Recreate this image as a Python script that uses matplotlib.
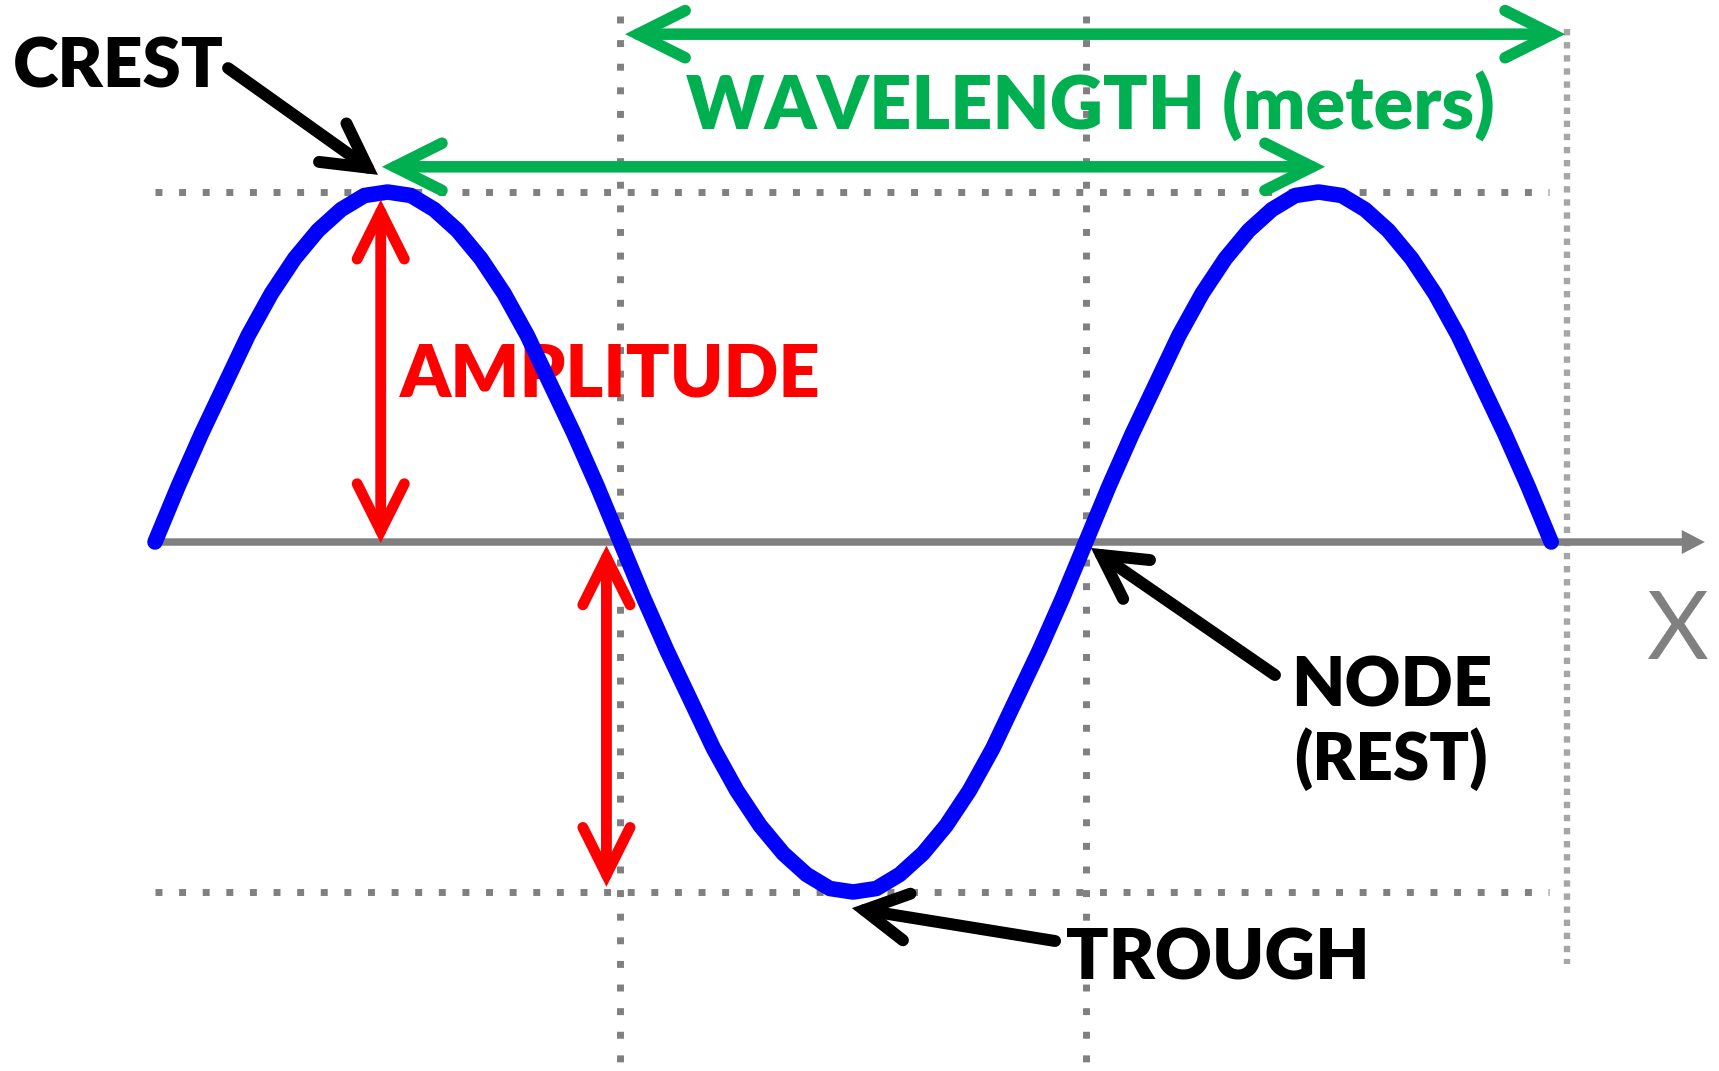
import numpy as np
import matplotlib
matplotlib.use("Agg")
import matplotlib.pyplot as plt
from matplotlib.patches import FancyArrowPatch, FancyArrow, ArrowStyle

# ---------------- data (x in quarter-wavelength units, y in amplitudes) ----------------
wave_x = [0.0, 0.1, 0.2, 0.3, 0.4, 0.5, 0.6, 0.7, 0.8, 0.9,
          1.0, 1.1, 1.2, 1.3, 1.4, 1.5, 1.6, 1.7, 1.8, 1.9,
          2.0, 2.1, 2.2, 2.3, 2.4, 2.5, 2.6, 2.7, 2.8, 2.9,
          3.0, 3.1, 3.2, 3.3, 3.4, 3.5, 3.6, 3.7, 3.8, 3.9,
          4.0, 4.1, 4.2, 4.3, 4.4, 4.5, 4.6, 4.7, 4.8, 4.9,
          5.0, 5.1, 5.2, 5.3, 5.4, 5.5, 5.6, 5.7, 5.8, 5.9, 6.0]
wave_y = [0.00, 0.16, 0.31, 0.45, 0.59, 0.71, 0.81, 0.89, 0.95, 0.99,
          1.00, 0.99, 0.95, 0.89, 0.81, 0.71, 0.59, 0.45, 0.31, 0.16,
          0.00, -0.16, -0.31, -0.45, -0.59, -0.71, -0.81, -0.89, -0.95, -0.99,
          -1.00, -0.99, -0.95, -0.89, -0.81, -0.71, -0.59, -0.45, -0.31, -0.16,
          0.00, 0.16, 0.31, 0.45, 0.59, 0.71, 0.81, 0.89, 0.95, 0.99,
          1.00, 0.99, 0.95, 0.89, 0.81, 0.71, 0.59, 0.45, 0.31, 0.16, 0.00]

axis_x = [0.0, 6.66]            # X axis: start, arrow tip
levels_y = [1.0, -1.0]          # crest / trough guide lines
levels_x = [0.0, 5.99]
node_lines_x = [2.0, 4.0]
node_lines_y = [1.503, -1.52]
edge_line_x = 6.07
edge_line_y = [1.465, -1.205]

# double arrows (start, end)
green_arrows = [((2.02, 1.451), (6.06, 1.451)),
                ((0.975, 1.072), (5.028, 1.072))]
red_arrows = [((0.97, 0.978), (0.97, -0.003)),
              ((1.94, -0.01), (1.94, -0.985))]
# pointer arrows (tail, tip)
black_arrows = [((0.314, 1.354), (0.958, 1.049)),   # crest
                ((4.813, -0.380), (4.022, -0.017)), # node
                ((3.868, -1.140), (2.995, -1.046))] # trough

# labels: text, left x, baseline y, target width (px), colour, weight
labels = [("CREST", -0.610, 1.300, 211, "black", "heavy"),
          ("WAVELENGTH (meters)", 2.282, 1.177, 808, "#00B050", "heavy"),
          ("AMPLITUDE", 1.053, 0.417, 420, "#FF0000", "heavy"),
          ("NODE", 4.882, -0.469, 201, "black", "heavy"),
          ("(REST)", 4.895, -0.680, 194, "black", "heavy"),
          ("TROUGH", 3.915, -1.249, 304, "black", "heavy"),
          ("X", 6.407, -0.334, 62, "#808080", "normal")]

GRAY = "#808080"
GREEN = "#00B050"
RED = "#FF0000"
BLUE = "#0000FF"

fig = plt.figure(figsize=(17.19, 10.71), dpi=100)
ax = fig.add_axes([0, 0, 1, 1])
ax.set_xlim(-0.6661, 6.7211)
ax.set_ylim(-1.5114, 1.5486)
ax.axis("off")

# guide lines
for ly in levels_y:
    ax.plot(levels_x, [ly, ly], color=GRAY, lw=5, linestyle=(0, (1, 2.4)),
            dash_capstyle="butt", zorder=1)
for lx in node_lines_x:
    ax.plot([lx, lx], node_lines_y, color=GRAY, lw=5, linestyle=(0, (1, 2.4)),
            dash_capstyle="butt", zorder=1)
ax.plot([edge_line_x, edge_line_x], edge_line_y, color="#A6A6A6", lw=4.6,
        linestyle=(0, (1, 1.05)), dash_capstyle="butt", zorder=1)

# X axis with filled arrow head
ax.add_patch(FancyArrow(axis_x[0], 0, axis_x[1] - axis_x[0], 0,
                        width=7.5 / 350, head_width=24 / 350, head_length=23 / 232.7,
                        length_includes_head=True, color=GRAY, lw=0, zorder=2))

# labels (fit width)
renderer = fig.canvas.get_renderer()
for s, x, y, w, c, wt in labels:
    z = 3 if c == RED else 6
    t = ax.text(x, y, s, color=c, fontweight=wt, fontsize=50, ha="left",
                va="baseline", family=["Lato", "DejaVu Sans"], zorder=z)
    ext = t.get_window_extent(renderer)
    t.set_fontsize(50 * w / ext.width)

# wave
ax.plot(wave_x, wave_y, color=BLUE, lw=11.2, solid_capstyle="round",
        solid_joinstyle="round", zorder=4)

style2 = ArrowStyle("<->", head_length=34, head_width=17)
style1 = ArrowStyle("->", head_length=31, head_width=17)
for a, b in green_arrows:
    ax.add_patch(FancyArrowPatch(a, b, arrowstyle=style2, mutation_scale=1,
                                 lw=8.3, color=GREEN, shrinkA=0, shrinkB=0,
                                 joinstyle="miter", capstyle="round", zorder=5))
for a, b in red_arrows:
    ax.add_patch(FancyArrowPatch(a, b, arrowstyle=style2, mutation_scale=1,
                                 lw=7.8, color=RED, shrinkA=0, shrinkB=0,
                                 joinstyle="miter", capstyle="round", zorder=5))
for a, b in black_arrows:
    ax.add_patch(FancyArrowPatch(a, b, arrowstyle=style1, mutation_scale=1,
                                 lw=8.6, color="black", shrinkA=0, shrinkB=0,
                                 joinstyle="miter", capstyle="round", zorder=5))

fig.savefig("out.png", dpi=100)
